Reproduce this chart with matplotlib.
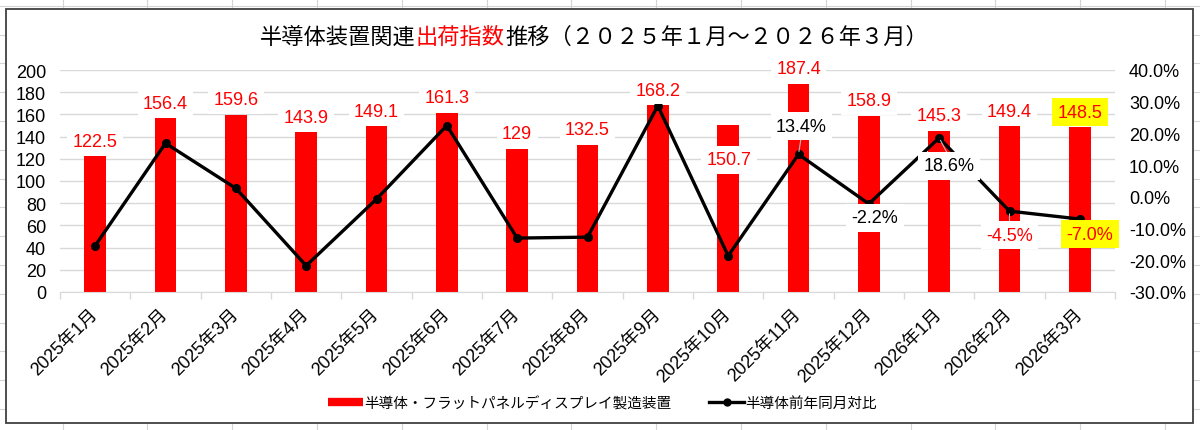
import matplotlib
matplotlib.use("Agg")
import matplotlib.pyplot as plt
from matplotlib.offsetbox import TextArea, HPacker, AnchoredOffsetbox
from matplotlib.patches import Rectangle
from matplotlib.lines import Line2D
from matplotlib.ticker import FuncFormatter, FixedLocator
import numpy as np

JP = ["Noto Sans CJK JP", "DejaVu Sans"]
NUM = ["Liberation Sans", "Noto Sans CJK JP", "DejaVu Sans"]

months = ["2025年1月", "2025年2月", "2025年3月", "2025年4月", "2025年5月",
          "2025年6月", "2025年7月", "2025年8月", "2025年9月", "2025年10月",
          "2025年11月", "2025年12月", "2026年1月", "2026年2月", "2026年3月"]
shipments = [122.5, 156.4, 159.6, 143.9, 149.1, 161.3, 129, 132.5, 168.2,
             150.7, 187.4, 158.9, 145.3, 149.4, 148.5]
yoy_pct = [-15.4, 16.9, 2.7, -21.7, -0.7, 22.5, -13.0, -12.7, 28.7, -18.6,
           13.4, -2.2, 18.6, -4.5, -7.0]
yoy_labelled = [10, 11, 12, 13, 14]   # only the last few points carry a label

bar_name = "半導体・フラットパネルディスプレイ製造装置"
line_name = "半導体前年同月対比"
title_parts = [("半導体装置関連", "black"), ("出荷指数", "#FF0000"),
               ("推移（２０２５年１月～２０２６年３月）", "black")]

RED = "#FF0000"
GRID = "#D9D9D9"
PX = 0.72  # px -> points at dpi 100
FS = 13

W, H = 1200, 431
fig = plt.figure(figsize=(W / 100, H / 100), dpi=100)

# --- spreadsheet cells behind the chart ---
for x in np.arange(317 - 4 * 84.8, W, 84.8):
    fig.add_artist(Line2D([x / W, x / W], [0, 1], color="#D4D4D4", lw=0.8, zorder=0))
for y in np.arange(6.8, H, 28.8):
    fig.add_artist(Line2D([0, 1], [1 - y / H, 1 - y / H], color="#D4D4D4", lw=0.8, zorder=0))
fig.add_artist(Rectangle((6 / W, 1 - 424 / H), (1193 - 6) / W, (424 - 10) / H,
                         facecolor="white", edgecolor="#404040", lw=1.3, zorder=0.5))

ax = fig.add_axes([60 / W, 1 - 293 / H, (1115 - 60) / W, (293 - 71) / H])
ax.set_zorder(1)
ax.patch.set_visible(False)
x = np.arange(len(months))

ax.bar(x, shipments, width=0.31, color=RED, zorder=2)
ax.set_xlim(-0.5, len(months) - 0.5)
ax.set_ylim(0, 200)
ax.set_yticks(np.arange(0, 201, 20))
ax.yaxis.grid(True, color=GRID, lw=1, zorder=0)
ax.set_axisbelow(True)
for s in ["top", "right", "left"]:
    ax.spines[s].set_visible(False)
ax.spines["bottom"].set_color(GRID)
ax.tick_params(axis="y", length=0, pad=10, labelsize=FS)
ax.set_xticks(x)
ax.set_xticklabels(months, rotation=45, ha="right", va="center",
                   rotation_mode="anchor", fontsize=FS, family=NUM)
ax.tick_params(axis="x", which="major", length=0, pad=14)
ax.xaxis.set_minor_locator(FixedLocator(np.arange(-0.5, len(months), 1)))
ax.tick_params(axis="x", which="minor", length=5, color=GRID, width=1)
for lab in ax.get_yticklabels():
    lab.set_family(NUM)

ax2 = ax.twinx()
ax2.set_zorder(2)
ax2.set_ylim(-30, 40)
ax2.set_yticks(np.arange(-30, 41, 10))
ax2.yaxis.set_major_formatter(FuncFormatter(lambda v, _: f"{v:.1f}%"))
ax2.tick_params(axis="y", length=0, pad=10, labelsize=FS)
for lab in ax2.get_yticklabels():
    lab.set_family(NUM)
for s in ax2.spines.values():
    s.set_visible(False)
ax2.plot(x, yoy_pct, color="black", lw=2.4, marker="o", ms=5.5, zorder=3)

# --- data labels (offsets in px, Excel had some of them dragged around) ---
bar_offsets = {9: (1, -35)}
for i, v in enumerate(shipments):
    dx, dy = bar_offsets.get(i, (0, 15))
    face = "#FFFF00" if i == 14 else "white"
    ax2.annotate(f"{v:g}", (x[i], v), xycoords=ax.transData,
                 xytext=(dx * PX, dy * PX), textcoords="offset points",
                 ha="center", va="center", color=RED, fontsize=FS, family=NUM,
                 bbox=dict(boxstyle="square,pad=0.3", fc=face, ec="none"), zorder=5)

line_offsets = {10: (3, 28), 11: (6, -14), 12: (10, -28), 13: (0, -24), 14: (10, -15)}
line_colors = {10: "black", 11: "black", 12: "black", 13: RED, 14: RED}
for i in yoy_labelled:
    dx, dy = line_offsets[i]
    face = "#FFFF00" if i == 14 else "white"
    if abs(dy) > 20:
        ax2.annotate("", (x[i], yoy_pct[i]), xytext=((dx) * PX, (dy - np.sign(dy) * 9) * PX),
                     textcoords="offset points",
                     arrowprops=dict(arrowstyle="-", color="#BFBFBF", lw=0.8), zorder=4)
    ax2.annotate(f"{yoy_pct[i]:.1f}%", (x[i], yoy_pct[i]),
                 xytext=(dx * PX, dy * PX), textcoords="offset points",
                 ha="center", va="center", color=line_colors[i], fontsize=FS, family=NUM,
                 bbox=dict(boxstyle="square,pad=0.3", fc=face, ec="none"), zorder=5)

# --- title with the red middle part ---
parts = [TextArea(t, textprops=dict(color=c, fontsize=16, family=JP)) for t, c in title_parts]
box = HPacker(children=parts, align="baseline", pad=0, sep=0)
anch = AnchoredOffsetbox(loc="center", child=box, frameon=False,
                         bbox_to_anchor=(0.495, 1 - 37 / H), bbox_transform=fig.transFigure,
                         borderpad=0)
fig.add_artist(anch)

handles = [Line2D([], [], color=RED, lw=6, solid_capstyle="butt"),
           Line2D([], [], color="black", lw=2.4, marker="o", ms=5)]
fig.legend(handles, [bar_name, line_name], loc="center", bbox_to_anchor=(0.502, 1 - 404 / H),
           ncol=2, frameon=False, prop=dict(family=JP, size=10.5), handlelength=2.4,
           handletextpad=0.1, columnspacing=2.6)

fig.savefig("out.png", dpi=100)
